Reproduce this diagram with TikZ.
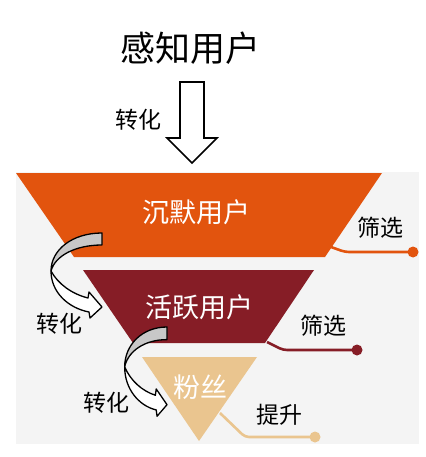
\documentclass[tikz,border=0pt]{standalone}
\usepackage{fontspec}
\newfontfamily\cjk{Noto Sans CJK SC}
\definecolor{forange}{RGB}{226,84,14}
\definecolor{fred}{RGB}{134,29,38}
\definecolor{fbeige}{RGB}{234,197,143}
\definecolor{bggray}{RGB}{244,244,244}
\definecolor{arrgray}{RGB}{200,200,200}
\begin{document}
\begin{tikzpicture}[x=1pt,y=-1pt,
  lbl/.style={inner sep=0pt,font=\cjk\fontsize{23}{23}\selectfont,text=black},
  wlbl/.style={inner sep=0pt,font=\cjk\fontsize{27}{27}\selectfont,text=white},
  dotnode/.style={circle,fill=#1,inner sep=0pt,minimum size=11pt},
  conn/.style={draw=#1,line width=2.6pt,rounded corners=4pt},
  bentarrow/.pic={
    \filldraw[fill=arrgray,draw=black,line width=1.3pt,line join=round]
      (0,0) .. controls (-30,0) and (-51,17) .. (-51,38)
      .. controls (-47,23) and (-27,12) .. (0,12) -- cycle;
    \filldraw[fill=white,draw=black,line width=1.3pt,line join=round]
      (-51,38) .. controls (-51,59) and (-34,75) .. (-13,79)
      -- (-12,85) -- (0,74) -- (-13,59) -- (-14,65)
      .. controls (-30,61) and (-44,51) .. (-51,38) -- cycle;
  }]
\useasboundingbox (0,0) rectangle (425,457);
% background panel
\fill[bggray] (16,172) rectangle (419,444);
% funnel levels
\fill[forange] (16,173) -- (382,173) -- (325,257) -- (74,257) -- cycle;
\fill[fred] (83,270) -- (314,270) -- (265,343) -- (133,343) -- cycle;
\fill[fbeige] (142,357) -- (257,357) -- (199,441) -- cycle;
% top title and arrow
\node[inner sep=0pt,font=\cjk\fontsize{35}{35}\selectfont] (title) at (190,48) {感知用户};
\filldraw[fill=white,draw=black,line width=1.6pt,line join=miter]
  (180,82) -- (204,82) -- (204,138) -- (217,138) -- (192,163) -- (167,138) -- (180,138) -- cycle;
\node[lbl] (conv0) at (138,120) {转化};
% level labels
\node[wlbl] (silent) at (196,212) {沉默用户};
\node[wlbl] (active) at (199,307) {活跃用户};
\node[wlbl] (fans) at (200,387) {粉丝};
% bent arrows
\pic at (102,233) {bentarrow};
\pic[xscale=0.83,yscale=1.05] at (167,327) {bentarrow};
\node[lbl] (conv1) at (59,324) {转化};
\node[lbl] (conv2) at (106,403) {转化};
% side connectors
\coordinate (o1) at (331,247);
\coordinate (o2) at (267,342);
\coordinate (o3) at (220,413);
\node[dotnode=forange] (d1) at (413,252) {};
\node[dotnode=fred] (d2) at (357,350) {};
\node[dotnode=fbeige] (d3) at (315,437) {};
\draw[conn=forange] (o1) -- (345,252) -- (d1.center);
\draw[conn=fred] (o2) -- (283,350) -- (d2.center);
\draw[conn=fbeige] (o3) -- (245,437) -- (d3.center);
\node[lbl] (f1) at (380,228) {筛选};
\node[lbl] (f2) at (323,326) {筛选};
\node[lbl] (f3) at (279,415) {提升};
\end{tikzpicture}
\end{document}
